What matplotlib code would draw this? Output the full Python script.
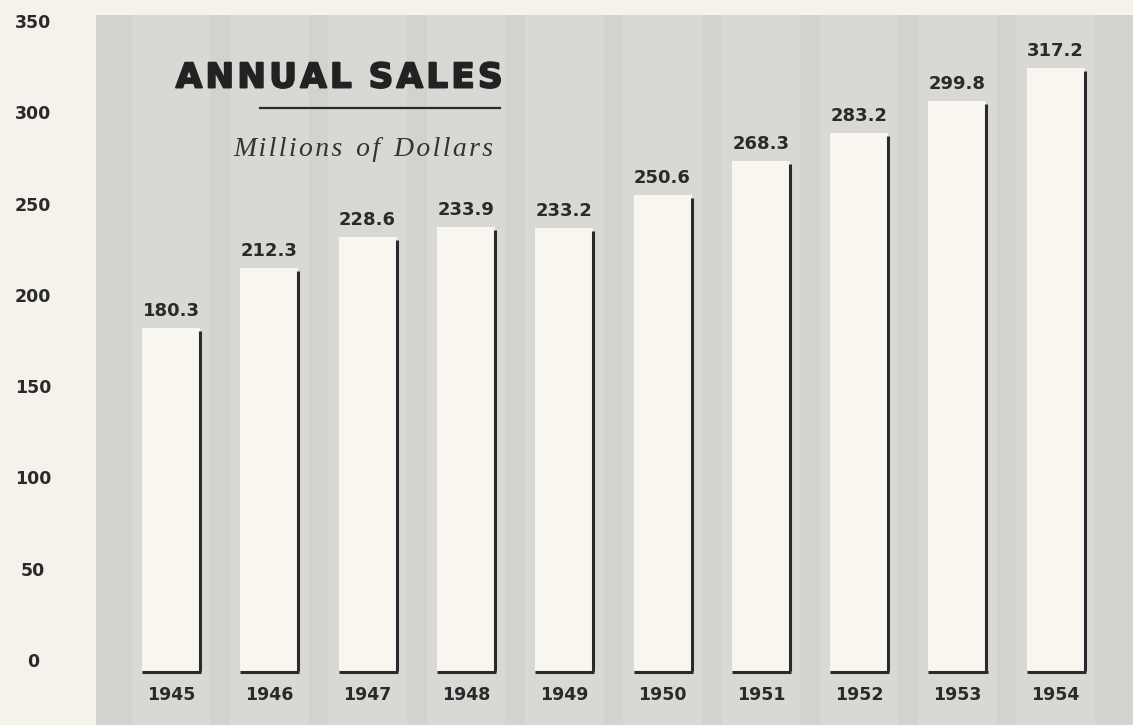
import matplotlib
matplotlib.use('Agg')
import matplotlib.pyplot as plt
import matplotlib.transforms as mtransforms
import matplotlib.patheffects as pe

years = ['1945', '1946', '1947', '1948', '1949', '1950', '1951', '1952', '1953', '1954']
sales = [180.3, 212.3, 228.6, 233.9, 233.2, 250.6, 268.3, 283.2, 299.8, 317.2]
y_ticks = [0, 50, 100, 150, 200, 250, 300, 350]

W, H = 1133, 725
fig = plt.figure(figsize=(W / 100, H / 100), dpi=100)
fig.patch.set_facecolor('#f4f2ea')

# grey panel = main axes (pixel box 96..1133 x 15..725)
ax = fig.add_axes([96 / W, 0, 1 - 96 / W, (H - 15) / H])
ax.set_facecolor('#d2d2ce')
for s in ax.spines.values():
    s.set_visible(False)
ax.set_xticks([])
ax.set_yticks([])
ax.set_xlim(-0.763, 9.786)
ax.set_ylim(-28.4, 345.3)

x = list(range(len(years)))
w = 0.59
dark = '#2a2a2a'

# slightly lighter vertical bands around each bar
ax.bar(x, [400] * len(x), width=0.8, bottom=-40, color='#d8d8d4', zorder=1)
ax.bar(x, sales, width=w, color='#f8f6ef', zorder=2)
# shadow lines: right edge and bottom
ax.vlines([i + w / 2 for i in x], 0, [v - 1.5 for v in sales], color=dark, lw=2.2, zorder=3)
ax.hlines([-0.6] * len(x), [i - w / 2 for i in x], [i + w / 2 + 0.012 for i in x],
          color=dark, lw=2.2, zorder=3)

for i, v in zip(x, sales):
    ax.text(i, v + 9, f'{v:.1f}', ha='center', va='center', fontsize=13,
            fontweight='bold', color=dark, zorder=4)
for i, yr in zip(x, years):
    ax.text(i, -12.8, yr, ha='center', va='center', fontsize=12.5,
            fontweight='bold', color=dark, zorder=4)

# title block
fig.text(339 / W, 1 - 78 / H, 'A N N U A L   S A L E S'.replace('   ', '\u2002').replace(' ', '\u200a'),
         ha='center', va='center', fontsize=24.5, fontweight='heavy', color='#222222',
         family='DejaVu Sans',
         path_effects=[pe.withStroke(linewidth=1.4, foreground='#222222')])
fig.add_artist(plt.Line2D([260 / W, 500 / W], [1 - 108 / H, 1 - 108 / H], color=dark, lw=1.6))
fig.text(363 / W, 1 - 150 / H, 'M i l l i o n s   o f   D o l l a r s'.replace('   ', '\u2002').replace(' ', '\u200a'),
         ha='center', va='center', fontsize=20, style='italic', color='#333333',
         family=['Liberation Serif', 'DejaVu Serif'])

# y axis labels on the cream margin
ax2 = fig.add_axes([0, 1 - 662 / H, 96 / W, (662 - 23) / H])
ax2.set_ylim(0, 350)
ax2.axis('off')
trans = mtransforms.blended_transform_factory(ax2.transAxes, ax2.transData)
for t in y_ticks:
    ax2.text(0.345, t, str(t), transform=trans, ha='center', va='center', fontsize=12.5,
             fontweight='bold', color=dark)

fig.savefig('out.png', dpi=100, facecolor=fig.get_facecolor())
